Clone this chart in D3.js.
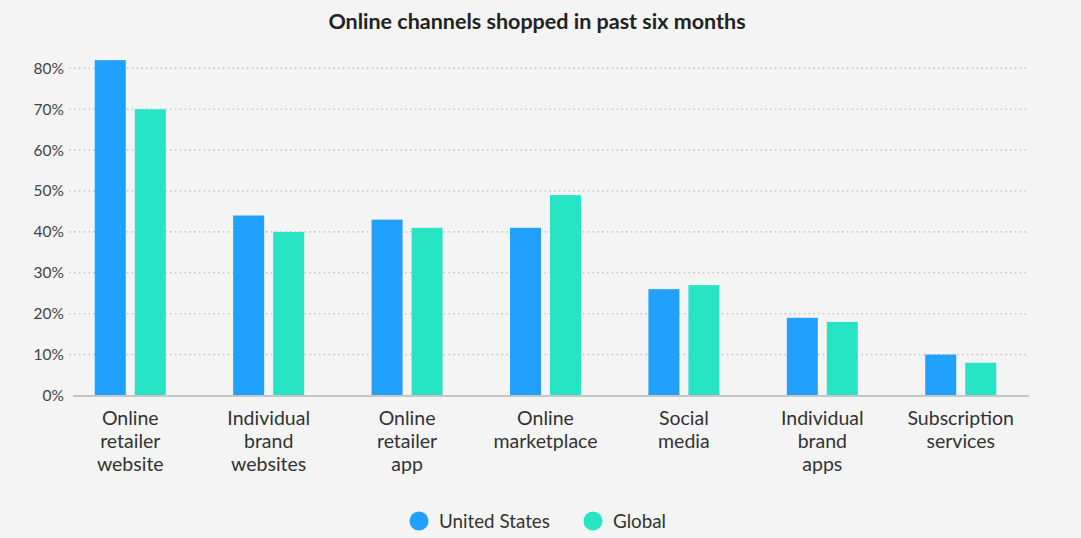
<!DOCTYPE html>
<html>
<head>
<meta charset="utf-8">
<script src="https://cdn.jsdelivr.net/npm/d3@7"></script>
<style>
  html, body { margin: 0; padding: 0; background: #f4f4f4; }
  svg { display: block; font-family: Lato, "Open Sans", sans-serif; }
</style>
</head>
<body>
<svg width="1081" height="538"></svg>
<script>
let svg = d3.select("svg");
let width = +svg.attr("width");
let height = +svg.attr("height");

// data
const categories = [
  "Online\nretailer\nwebsite",
  "Individual\nbrand\nwebsites",
  "Online\nretailer\napp",
  "Online\nmarketplace",
  "Social\nmedia",
  "Individual\nbrand\napps",
  "Subscription\nservices"
];
const seriesNames = ["United States", "Global"];
const usValues = [82, 44, 43, 41, 26, 19, 10];
const globalValues = [70, 40, 41, 49, 27, 18, 8];
const yTicks = [0, 10, 20, 30, 40, 50, 60, 70, 80];
const colors = ["#20a1fe", "#27e5c4"];

const rows = categories.map((c, i) => ({ cat: c, vals: [usValues[i], globalValues[i]] }));

let x = d3.scaleBand().domain(categories).range([61, 1030]).paddingInner(0.487).paddingOuter(0.244);
let xs = d3.scaleBand().domain(seriesNames).range([0, x.bandwidth()]).paddingInner(0.225);
let y = d3.scaleLinear().domain([0, 80]).range([395.5, 68.3]);

// title
svg.append("text")
  .attr("x", 537)
  .attr("y", 29)
  .attr("text-anchor", "middle")
  .attr("font-size", 21.5)
  .attr("font-weight", "bold")
  .attr("fill", "#222")
  .text("Online channels shopped in past six months");

// grid lines
svg.append("g")
  .selectAll("line")
  .data(yTicks.filter((d) => d > 0))
  .enter()
  .append("line")
  .attr("x1", 70)
  .attr("x2", 1027)
  .attr("y1", (d) => y(d))
  .attr("y2", (d) => y(d))
  .attr("stroke", "#bdbdbd")
  .attr("stroke-width", 1.6)
  .attr("stroke-linecap", "round")
  .attr("stroke-dasharray", "0.1,4.7");

// y axis labels
let yAxis = d3.axisLeft(y).tickValues(yTicks).tickSize(0).tickPadding(0).tickFormat((d) => d + "%");
let yg = svg.append("g").attr("transform", "translate(64,0)").call(yAxis);
yg.select(".domain").remove();
yg.selectAll("text")
  .attr("font-family", "Lato, sans-serif")
  .attr("font-size", 15.5)
  .attr("fill", "#444");

// bars
let groups = svg.append("g")
  .selectAll("g")
  .data(rows)
  .enter()
  .append("g")
  .attr("transform", (d) => "translate(" + x(d.cat) + ",0)");

groups.selectAll("rect")
  .data((d) => d.vals.map((v, k) => ({ name: seriesNames[k], v: v, k: k })))
  .enter()
  .append("rect")
  .attr("x", (d) => xs(d.name))
  .attr("width", xs.bandwidth())
  .attr("y", (d) => y(d.v))
  .attr("height", (d) => y(0) - y(d.v))
  .attr("fill", (d) => colors[d.k]);

// baseline
svg.append("line")
  .attr("x1", 73)
  .attr("x2", 1029)
  .attr("y1", y(0) + 0.5)
  .attr("y2", y(0) + 0.5)
  .attr("stroke", "#c6c6c6")
  .attr("stroke-width", 2);

// x labels
let xl = svg.append("g")
  .selectAll("text")
  .data(categories)
  .enter()
  .append("text")
  .attr("x", (d) => x(d) + x.bandwidth() / 2)
  .attr("y", 425)
  .attr("text-anchor", "middle")
  .attr("font-size", 19.5)
  .attr("fill", "#333");

xl.selectAll("tspan")
  .data((d) => d.split("\n"))
  .enter()
  .append("tspan")
  .attr("x", function () { return d3.select(this.parentNode).attr("x"); })
  .attr("dy", (d, i) => (i === 0 ? 0 : 23))
  .text((d) => d);

// legend
const legendX = [419, 593];
let legend = svg.append("g")
  .selectAll("g")
  .data(seriesNames)
  .enter()
  .append("g")
  .attr("transform", (d, i) => "translate(" + legendX[i] + ",521)");

legend.append("circle")
  .attr("r", 9.5)
  .attr("fill", (d, i) => colors[i]);

legend.append("text")
  .attr("x", 20)
  .attr("y", 6.5)
  .attr("font-size", 18.8)
  .attr("fill", "#333")
  .text((d) => d);
</script>
</body>
</html>
